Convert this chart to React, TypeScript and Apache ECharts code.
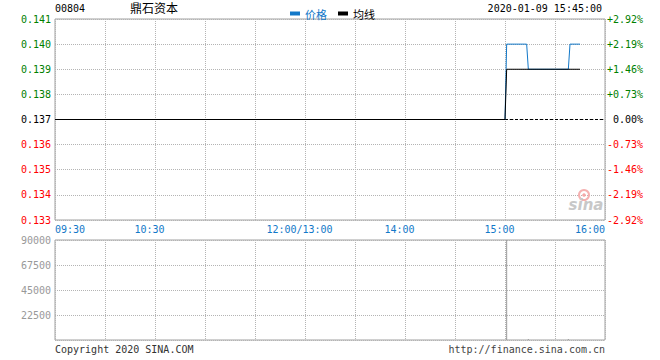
import React, { useEffect, useRef } from "react";
import * as echarts from "echarts";

const stockCode = "00804";
const stockName = "鼎石资本";
const stampText = "2020-01-09 15:45:00";
const prevClose = 0.137;

// change points of the minute price line [time, price]
const priceTimes = ["09:30", "15:00", "15:01", "15:13", "15:14", "15:38", "15:39", "15:45"];
const priceValues = [0.137, 0.137, 0.14, 0.14, 0.139, 0.139, 0.14, 0.14];

const avgTimes = ["09:30", "15:00", "15:01", "15:45"];
const avgValues = [0.137, 0.137, 0.139, 0.139];

const closeTimes = ["09:30", "16:00"];
const closeValues = [prevClose, prevClose];

const volTimes = ["15:01", "15:14", "15:38"];
const volValues = [90000, 1000, 1000];

const xTickMinutes = [0, 60, 150, 210, 270, 330];
const xTickLabels = ["09:30", "10:30", "12:00/13:00", "14:00", "15:00", "16:00"];

const MONO = "DejaVu Sans Mono";
const CJK = "Noto Sans CJK SC";
const BLUE = "#1278c8";

function toMinute(t: string): number {
  const [h, m] = t.split(":").map(Number);
  const v = h * 60 + m;
  return v < 12 * 60 + 1 ? v - (9 * 60 + 30) : v - 13 * 60 + 150;
}

export default function App() {
  const ref = useRef<HTMLDivElement>(null);
  useEffect(() => {
    document.body.style.margin = "0";
    if (!ref.current) return;
    const chart = echarts.init(ref.current, null, { renderer: "svg" });
    const gridLine = { show: true, lineStyle: { color: "#b4b4b4", type: [1, 1] as any, width: 1 } };
    const xLabel = (v: number) => {
      const i = xTickMinutes.indexOf(Math.round(v));
      if (i < 0) return "";
      if (i === 0 || i === xTickMinutes.length - 1) return xTickLabels[i];
      return "{m|" + xTickLabels[i] + "}";
    };
    const priceColor = (v: any) => {
      const n = Number(v);
      if (Math.abs(n - prevClose) < 1e-7) return "#000";
      return n > prevClose ? "#008000" : "#ff0000";
    };
    chart.setOption({
      animation: false,
      backgroundColor: "#fff",
      textStyle: { fontFamily: MONO },
      legend: {
        left: 285,
        top: 3,
        icon: "rect",
        itemWidth: 10,
        itemHeight: 4,
        itemGap: 11,
        textStyle: { fontSize: 11, fontFamily: CJK },
        data: [
          { name: "价格", textStyle: { color: BLUE } },
          { name: "均线", textStyle: { color: "#000" } },
        ],
      },
      grid: [
        { left: 55, top: 19, width: 550, height: 201, show: true, borderColor: "#a0a0a0", borderWidth: 1, backgroundColor: "transparent" },
        { left: 55, top: 240, width: 550, height: 100, show: true, borderColor: "#a0a0a0", borderWidth: 1, backgroundColor: "transparent" },
      ],
      xAxis: [
        {
          type: "value", gridIndex: 0, min: 0, max: 330, interval: 30,
          axisLine: { show: false }, axisTick: { show: false }, splitLine: gridLine,
          axisLabel: {
            formatter: xLabel, color: BLUE, fontFamily: MONO, fontSize: 10, margin: 4,
            alignMinLabel: "left", alignMaxLabel: "right",
            rich: { m: { color: BLUE, fontFamily: MONO, fontSize: 10, padding: [0, 11, 0, 0] } },
          },
        },
        {
          type: "value", gridIndex: 1, min: 0, max: 330, interval: 30,
          axisLine: { show: false }, axisTick: { show: false }, splitLine: gridLine,
          axisLabel: { show: false },
        },
      ],
      yAxis: [
        {
          type: "value", gridIndex: 0, min: 0.133, max: 0.141, interval: 0.001, position: "left",
          axisLine: { show: false }, axisTick: { show: false }, splitLine: gridLine,
          axisLabel: {
            formatter: (v: number) => Number(v).toFixed(3), color: priceColor,
            fontFamily: MONO, fontSize: 10, margin: 4, padding: [0, 0, 6, 0],
          },
        },
        {
          type: "value", gridIndex: 0, min: 0.133, max: 0.141, interval: 0.001, position: "right",
          axisLine: { show: false }, axisTick: { show: false }, splitLine: { show: false },
          axisLabel: {
            formatter: (v: number) => {
              const p = ((Number(v) - prevClose) / prevClose) * 100;
              if (Math.abs(p) < 1e-6) return "\u00a00.00%";
              return (p > 0 ? "+" : "") + p.toFixed(2) + "%";
            },
            color: priceColor, fontFamily: MONO, fontSize: 10, margin: 2, padding: [0, 0, 6, 0],
          },
        },
        {
          type: "value", gridIndex: 1, min: 0, max: 90000, interval: 22500, position: "left",
          axisLine: { show: false }, axisTick: { show: false }, splitLine: gridLine,
          axisLabel: {
            formatter: (v: number) => (Number(v) === 0 ? "" : String(v)),
            color: "#999", fontFamily: MONO, fontSize: 10, margin: 4, padding: [0, 0, 5, 0],
          },
        },
      ],
      series: [
        {
          name: "昨收", type: "line", xAxisIndex: 0, yAxisIndex: 0, z: 2,
          showSymbol: false, symbol: "none", color: "#000",
          lineStyle: { color: "#000", width: 1, type: [3, 2] as any },
          data: closeTimes.map((t, i) => [toMinute(t), closeValues[i]]),
        },
        {
          name: "价格", type: "line", xAxisIndex: 0, yAxisIndex: 0, z: 3,
          showSymbol: false, symbol: "none", color: BLUE,
          lineStyle: { color: BLUE, width: 1 },
          data: priceTimes.map((t, i) => [toMinute(t), priceValues[i]]),
        },
        {
          name: "均线", type: "line", xAxisIndex: 0, yAxisIndex: 0, z: 4,
          showSymbol: false, symbol: "none", color: "#000",
          lineStyle: { color: "#000", width: 1 },
          data: avgTimes.map((t, i) => [toMinute(t), avgValues[i]]),
        },
        {
          name: "成交量", type: "bar", xAxisIndex: 1, yAxisIndex: 2, barWidth: 1,
          itemStyle: { color: "#999" },
          data: volTimes.map((t, i) => [toMinute(t), volValues[i]]),
        },
      ],
      graphic: [
        { type: "text", left: 55, top: 3, style: { text: stockCode, fontFamily: MONO, fontSize: 10, fill: "#000" } },
        { type: "text", left: 130, top: 1, style: { text: stockName, fontFamily: CJK, fontSize: 12, fill: "#000" } },
        { type: "text", right: 58, top: 3, style: { text: stampText, fontFamily: MONO, fontSize: 10, fill: "#000" } },
        { type: "text", left: 55, top: 344, style: { text: "Copyright 2020 SINA.COM", fontFamily: MONO, fontSize: 10, fill: "#333" } },
        { type: "text", right: 55, top: 344, style: { text: "http://finance.sina.com.cn", fontFamily: MONO, fontSize: 10, fill: "#444" } },
        { type: "circle", shape: { cx: 584, cy: 195, r: 5 }, style: { fill: "none", stroke: "#f5b0b0", lineWidth: 2 }, z: 1 },
        { type: "circle", shape: { cx: 584, cy: 195, r: 1.8 }, style: { fill: "#f5a8a8" }, z: 1 },
        { type: "text", x: 586, y: 205, style: { text: "sina", fontFamily: "DejaVu Sans", fontStyle: "italic", fontWeight: "bold", fontSize: 15, fill: "#c8c8c8", align: "center", verticalAlign: "middle" }, z: 1 },
      ],
    });
    return () => chart.dispose();
  }, []);
  return <div ref={ref} style={{ width: 660, height: 360 }} />;
}
